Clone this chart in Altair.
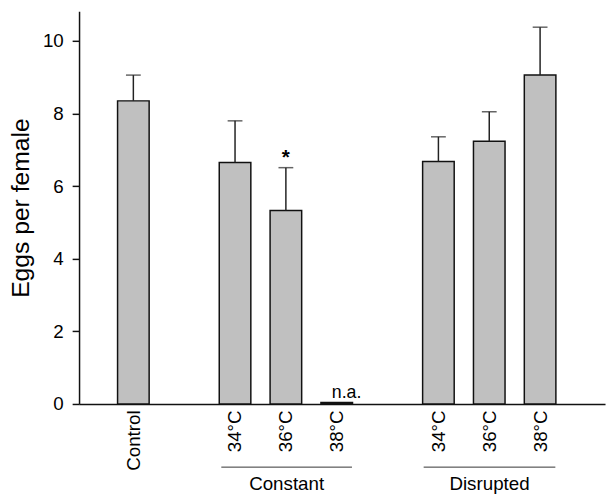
import altair as alt
import pandas as pd

# Bar slots (0 = Control, gaps between groups)
positions = [0, 2, 3, 4, 6, 7, 8]
labels = ["Control", "34°C", "36°C", "38°C", "34°C", "36°C", "38°C"]
means = [8.35, 6.65, 5.33, 0.04, 6.68, 7.24, 9.06]
errors = [0.71, 1.15, 1.18, None, 0.68, 0.81, 1.32]

group_names = ["Constant", "Disrupted"]
group_start = [1.73, 5.71]
group_end = [4.30, 8.30]

note_text = ["*", "n.a."]
note_pos = [3, 4]

y_ticks = [0, 2, 4, 6, 8, 10]

df = pd.DataFrame({"pos": positions, "label": labels, "mean": means, "err": errors})
df["top"] = df["mean"] + df["err"].fillna(0)
err_df = df[df["err"].notna()].copy()

groups = pd.DataFrame({"name": group_names, "start": group_start, "end": group_end})
groups["mid"] = (groups["start"] + groups["end"]) / 2

notes = pd.DataFrame({"text": note_text, "pos": note_pos})
notes = notes.merge(df[["pos", "top"]], on="pos")

label_expr = ""
for p, l in zip(positions, labels):
    label_expr += f"datum.value == {p} ? '{l}' : "
label_expr += "''"

xscale = alt.Scale(domain=[-0.971, 9.18], nice=False, zero=False)
yscale = alt.Scale(domain=[0, 10.82], nice=False)

xaxis = alt.Axis(values=positions, labelExpr=label_expr, labelAngle=270, ticks=False,
                 tickSize=0, labelPadding=6, labelFontSize=19, title=None, grid=False,
                 labelFlush=False, labelOverlap=False, labelBound=False,
                 domainColor="#111", domainWidth=1.5, labelColor="black")
yaxis = alt.Axis(values=y_ticks, tickSize=7, tickWidth=1.5, tickColor="#111",
                 labelFontSize=19, labelPadding=9, labelColor="black",
                 title="Eggs per female", titleFontSize=25, titleFontWeight="normal",
                 titleColor="black", titleX=-71, titleBaseline="top", grid=False,
                 domainColor="#111", domainWidth=1.5)

base = alt.Chart(df)

bars = base.mark_bar(size=32, fill="#c0c0c0", stroke="#111", strokeWidth=1.5).encode(
    x=alt.X("pos:Q", scale=xscale, axis=xaxis),
    y=alt.Y("mean:Q", scale=yscale, axis=yaxis),
)

err_rule = alt.Chart(err_df).mark_rule(color="#222", strokeWidth=1.5).encode(
    x="pos:Q", y="mean:Q", y2="top:Q"
)
err_cap = alt.Chart(err_df).mark_tick(orient="horizontal", size=15, thickness=1.5, color="#222").encode(
    x="pos:Q", y="top:Q"
)

note_star = alt.Chart(notes[notes["text"] == "*"]).mark_text(
    fontSize=21, fontWeight="bold", baseline="alphabetic", dy=-4, color="black"
).encode(x="pos:Q", y="top:Q", text="text:N")
note_na = alt.Chart(notes[notes["text"] == "n.a."]).mark_text(
    fontSize=18, baseline="alphabetic", dy=-5, dx=10, color="black"
).encode(x="pos:Q", y="top:Q", text="text:N")

group_rule = alt.Chart(groups).mark_rule(color="#333", strokeWidth=1).encode(
    x="start:Q", x2="end:Q", y=alt.value(462)
)
group_text = alt.Chart(groups).mark_text(fontSize=19, baseline="alphabetic", color="black").encode(
    x="mid:Q", y=alt.value(485), text="name:N"
)

chart = alt.layer(bars, err_rule, err_cap, note_star, note_na, group_rule, group_text).properties(
    width=533, height=398,
    autosize=alt.AutoSizeParams(type="none"),
    padding={"left": 72, "top": 0, "right": 2, "bottom": 90},
).configure(font="Liberation Sans").configure_view(stroke=None)

chart.save("out.html", embed_options={"renderer": "svg", "actions": False})
